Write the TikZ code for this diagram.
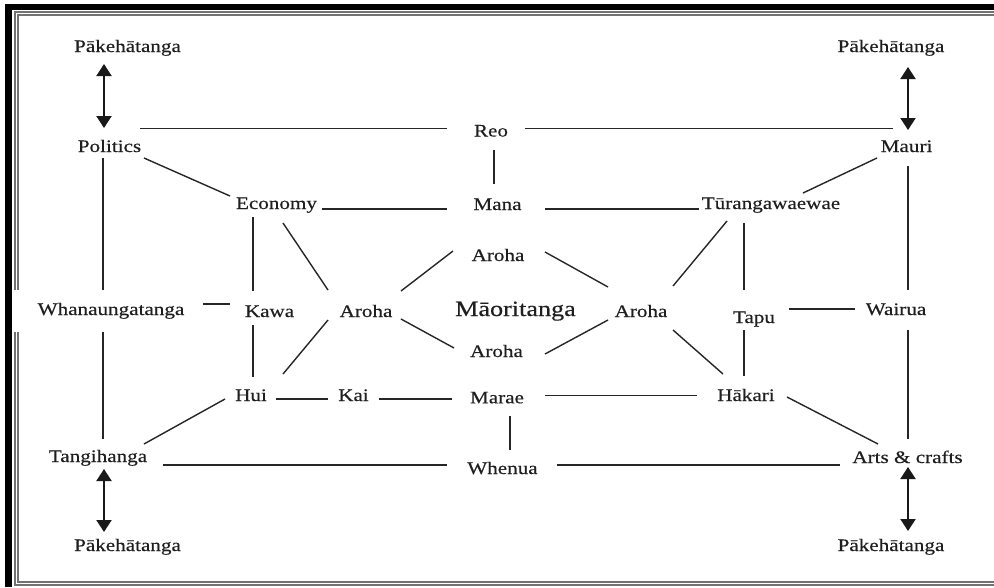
\documentclass[tikz,border=0pt]{standalone}
\usepackage{fontspec}
\setmainfont{Liberation Serif}[FakeStretch=1.2,FakeBold=0.4]
\usetikzlibrary{calc,arrows.meta,backgrounds}

% connector between two labels, each end given as an offset from the label's base point
\newcommand\joinlabels[4]{\draw[link] ($(#1.base)+(#2)$) -- ($(#3.base)+(#4)$);}
\newcommand\twowaylabels[4]{\draw[twoway] ($(#1.base)+(#2)$) -- ($(#3.base)+(#4)$);}

\tikzset{
  lbl/.style={anchor=base, inner sep=0pt, text=black!88,
              font=\fontsize{17.6}{20}\selectfont},
  biglbl/.style={lbl, font=\fontsize{21.8}{24}\selectfont},
  link/.style={line width=1.4pt, draw=black!85},
  twoway/.style={line width=2pt, draw=black!90,
                 {Triangle[width=15pt,length=12pt]}-{Triangle[width=15pt,length=12pt]}},
  frameline/.style={line width=1.1pt, draw=black!55},
}

\begin{document}
\begin{tikzpicture}[x=1pt,y=-1pt]
\useasboundingbox (0,0) rectangle (994,587);

% labels
\node[lbl] (PK1) at (127.5,52) {Pākehātanga};
\node[lbl] (PK2) at (891,52) {Pākehātanga};
\node[lbl] (PK3) at (127.5,551) {Pākehātanga};
\node[lbl] (PK4) at (891,551) {Pākehātanga};
\node[lbl] (Politics) at (109.5,152) {Politics};
\node[lbl] (Mauri) at (906.5,152) {Mauri};
\node[lbl] (Tangihanga) at (98,462) {Tangihanga};
\node[lbl] (Arts) at (907.5,463) {Arts \& crafts};
\node[lbl] (Reo) at (491,136.5) {Reo};
\node[lbl] (Economy) at (276.5,209) {Economy};
\node[lbl] (Mana) at (497.5,210) {Mana};
\node[lbl] (Tur) at (771,209) {Tūrangawaewae};
\node[lbl] (ArohaT) at (498,261) {Aroha};
\node[lbl] (ArohaL) at (366,317) {Aroha};
\node[lbl] (ArohaR) at (641,317) {Aroha};
\node[lbl] (ArohaB) at (496.5,357) {Aroha};
\node[biglbl] (Maori) at (515.5,316) {Māoritanga};
\node[lbl] (Whanau) at (111,315) {Whanaungatanga};
\node[lbl] (Kawa) at (269.5,317) {Kawa};
\node[lbl] (Tapu) at (754,323) {Tapu};
\node[lbl] (Wairua) at (896,315) {Wairua};
\node[lbl] (Hui) at (251,401) {Hui};
\node[lbl] (Kai) at (353.5,401) {Kai};
\node[lbl] (Marae) at (497,403.3) {Marae};
\node[lbl] (Hakari) at (746,401) {Hākari};
\node[lbl] (Whenua) at (502.5,474) {Whenua};

% page frame, the long left-hand line and the white patch behind Whanaungatanga
\begin{pgfonlayer}{background}
  \fill[black] (5,4) rectangle (12,587);
  \fill[black] (5,4) rectangle (994,10);
  \draw[frameline] (994,585) -- (15,585) -- (15,12) -- (994,12);
  \draw[frameline] (994,582) -- (18,582) -- (18,15) -- (994,15);
  \joinlabels{Politics}{-6.5,6}{Tangihanga}{5,-23}
  \fill[white] ($(Whanau.base)+(-98,-25)$) rectangle ($(Whanau.base)+(90,17)$);
\end{pgfonlayer}

% top row
\joinlabels{Politics}{30.5,-23.7}{Reo}{-44.3,-8.2}
\joinlabels{Reo}{34,-8.2}{Mauri}{-13.5,-23.7}
\joinlabels{Reo}{3,13.5}{Mana}{-3.5,-26}
\joinlabels{Politics}{34.5,6}{Economy}{-46.5,-13}
\joinlabels{Economy}{45.5,0}{Mana}{-50.8,-1}
\joinlabels{Mana}{47.5,-1}{Tur}{-72,0}
\joinlabels{Mauri}{-29.5,6}{Tur}{32,-16}

% left block
\joinlabels{Whanau}{92,-11}{Kawa}{-39.5,-13}
\joinlabels{Economy}{-23.5,8}{Kawa}{-16.5,-26}
\joinlabels{Kawa}{-16.5,8}{Hui}{2,-24}
\joinlabels{Economy}{6.5,14}{ArohaL}{-38,-27}
\joinlabels{ArohaL}{-38,3}{Hui}{32,-27}
\joinlabels{Hui}{25,-2}{Kai}{-25.5,-2}
\joinlabels{Kai}{25.5,-2}{Marae}{-45.3,-4.3}
\joinlabels{Tangihanga}{46,-18}{Hui}{-26,-2}

% bottom row
\joinlabels{Tangihanga}{65,3}{Whenua}{-55.8,-9}
\joinlabels{Whenua}{54.2,-9}{Arts}{-67.5,2}
\joinlabels{Marae}{13,12.7}{Whenua}{7.5,-24}
\joinlabels{Marae}{48,-7.6}{Hakari}{-49,-5.3}
\joinlabels{Hakari}{41,-4}{Arts}{-29.5,-19}

% right block
\joinlabels{Mauri}{1.5,14}{Wairua}{12,-25}
\joinlabels{Wairua}{12,15}{Arts}{0.5,-24}
\joinlabels{Tur}{-27,14}{Tapu}{-10,-33}
\joinlabels{Tapu}{-10,7}{Hakari}{-2,-25}
\joinlabels{Tapu}{35,-14}{Wairua}{-41,-6}
\joinlabels{Tur}{-44,12}{ArohaR}{32,-31}
\joinlabels{ArohaR}{32,13}{Hakari}{-23,-27}

% the Aroha diamond round Māoritanga
\joinlabels{ArohaL}{35,-26}{ArohaT}{-45,-10}
\joinlabels{ArohaL}{35,2}{ArohaB}{-42.5,-9}
\joinlabels{ArohaT}{47,-9}{ArohaR}{-33,-30}
\joinlabels{ArohaB}{48.5,-3}{ArohaR}{-33,3}

% links out to Pākehātanga
\twowaylabels{PK1}{-23.5,12}{Politics}{-5.5,-24}
\twowaylabels{PK2}{17,15}{Mauri}{1.5,-22}
\twowaylabels{Tangihanga}{6,7}{PK3}{-23.5,-19}
\twowaylabels{Arts}{0.5,4}{PK4}{17,-20}
\end{tikzpicture}
\end{document}
